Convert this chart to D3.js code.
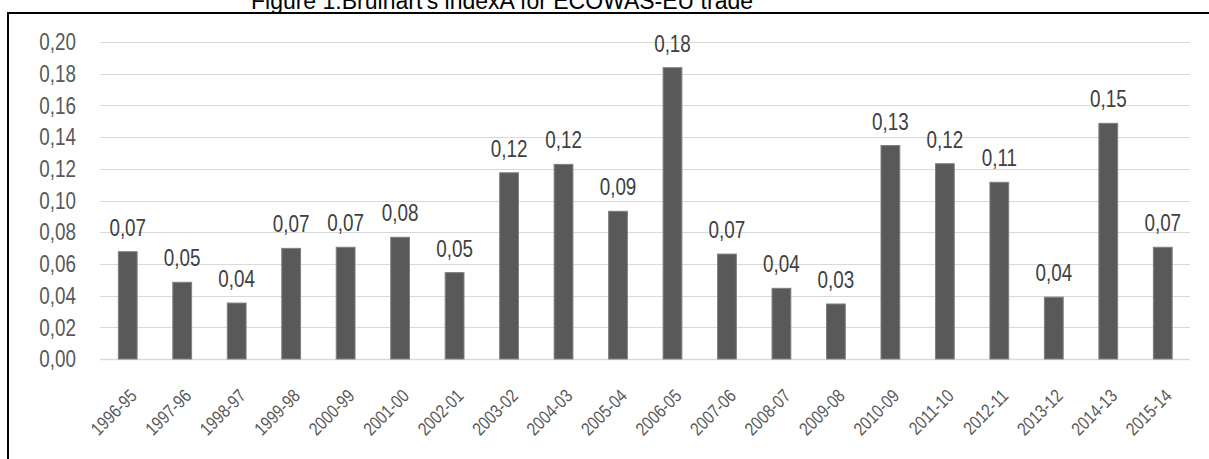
<!DOCTYPE html>
<html>
<head>
<meta charset="utf-8">
<script src="https://cdn.jsdelivr.net/npm/d3@7"></script>
<style>
  html, body { margin: 0; padding: 0; background: #fff; }
  svg { display: block; }
  text { font-family: "Liberation Sans", Arial, sans-serif; }
</style>
</head>
<body>
<div id="chart"></div>
<script>
// periods on the x axis
const periods = ["1996-95", "1997-96", "1998-97", "1999-98", "2000-99", "2001-00", "2002-01",
  "2003-02", "2004-03", "2005-04", "2006-05", "2007-06", "2008-07", "2009-08", "2010-09",
  "2011-10", "2012-11", "2013-12", "2014-13", "2015-14"];
// Brulhart's index values
const indexValues = [0.0677, 0.0484, 0.0353, 0.0698, 0.0705, 0.0768, 0.0545, 0.1175, 0.1228, 0.0932,
  0.1838, 0.0662, 0.0446, 0.0347, 0.1347, 0.1232, 0.1115, 0.0390, 0.1487, 0.0705];
const yTicks = [0, 0.02, 0.04, 0.06, 0.08, 0.10, 0.12, 0.14, 0.16, 0.18, 0.20];

const width = 1209, height = 459;
const narrow = 0.82; // no narrow font installed, squeeze text instead
const fmt = v => d3.format(".2f")(v).replace(".", ",");

const svg = d3.select("#chart").append("svg")
  .attr("width", width)
  .attr("height", height);

// frame (only top and left edges are inside the picture)
svg.append("path")
  .attr("d", "M8,459 V13 H1209")
  .attr("fill", "none")
  .attr("stroke", "#000")
  .attr("stroke-width", 2);

// title, clipped at the top of the page like the original
svg.append("text")
  .attr("x", 502)
  .attr("y", 9)
  .attr("text-anchor", "middle")
  .style("font-size", "23px")
  .attr("fill", "#000")
  .text("Figure 1:Brulhart's indexA for ECOWAS-EU trade");

const x = d3.scaleBand()
  .domain(periods)
  .range([100.5, 1190])
  .paddingInner(0.655)
  .paddingOuter(0.3275);

const y = d3.scaleLinear()
  .domain([0, 0.20])
  .range([359, 42]);

// gridlines
svg.append("g")
  .selectAll("line")
  .data(yTicks)
  .join("line")
  .attr("x1", 100)
  .attr("x2", 1190)
  .attr("y1", d => Math.round(y(d)) + 0.5)
  .attr("y2", d => Math.round(y(d)) + 0.5)
  .attr("stroke", "#d9d9d9")
  .attr("stroke-width", d => d === 0 ? 1.5 : 1);

// y labels
svg.append("g")
  .selectAll("text")
  .data(yTicks)
  .join("text")
  .attr("transform", d => `translate(76,${y(d)}) scale(${narrow},1)`)
  .attr("dy", "0.36em")
  .attr("text-anchor", "end")
  .attr("fill", "#595959")
  .style("font-size", "23px")
  .text(d => fmt(d));

// bars
svg.append("g")
  .selectAll("rect")
  .data(indexValues)
  .join("rect")
  .attr("x", (d, i) => x(periods[i]))
  .attr("y", d => y(d))
  .attr("width", x.bandwidth())
  .attr("height", d => y(0) - y(d))
  .attr("fill", "#595959")
  .attr("stroke", "#808080")
  .attr("stroke-width", 1);

// value labels
svg.append("g")
  .selectAll("text")
  .data(indexValues)
  .join("text")
  .attr("transform", (d, i) => `translate(${x(periods[i]) + x.bandwidth() / 2},${y(d) - 16}) scale(${narrow},1)`)
  .attr("text-anchor", "middle")
  .attr("fill", "#404040")
  .style("font-size", "23px")
  .text(d => fmt(d));

// x labels, rotated
svg.append("g")
  .selectAll("text")
  .data(periods)
  .join("text")
  .attr("transform", d => `translate(${x(d) + x.bandwidth() / 2 + 1},388) rotate(-45) scale(${narrow},1)`)
  .attr("text-anchor", "end")
  .attr("dy", "0.7em")
  .attr("fill", "#595959")
  .style("font-size", "18.5px")
  .text(d => d);
</script>
</body>
</html>
